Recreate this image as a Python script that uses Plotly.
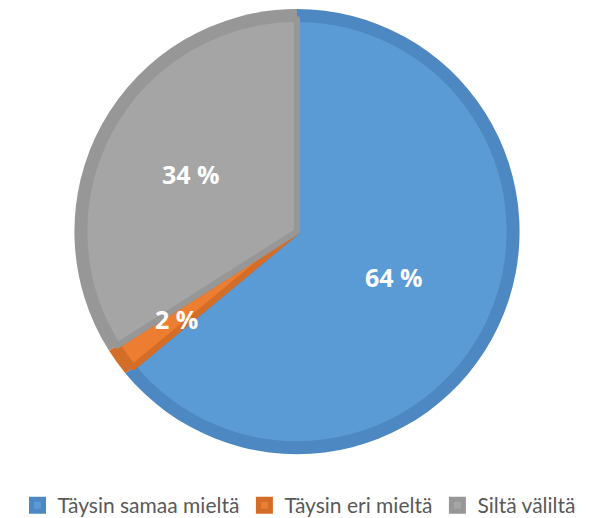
import numpy as np
import plotly.graph_objects as go

# data
labels = ["Täysin samaa mieltä", "Täysin eri mieltä", "Siltä väliltä"]
values = [64, 2, 34]
label_text = ["64 %", "2 %", "34 %"]

FILL   = ["#5B9BD5", "#ED7D31", "#A5A5A5"]
EDGE   = ["#4E88C2", "#D46D27", "#979797"]
W, H = 590, 518
OFF = 8  # browser body margin shifts the figure by 8px

# pie geometry in page pixels (center, outer radius, border width)
CX, CY, R, B = 297 - OFF, 232 - OFF, 223, 10
label_r = [0.48, 0.67, 0.54]


def dom(r):
    return dict(x=[(CX - r) / W, (CX + r) / W],
                y=[1 - (CY + r) / H, 1 - (CY - r) / H])


fig = go.Figure()
# darker outer disc = the slice borders
fig.add_trace(go.Pie(labels=labels, values=values, sort=False, direction="clockwise",
                     rotation=0, marker=dict(colors=EDGE), textinfo="none",
                     hoverinfo="skip", domain=dom(R), showlegend=False))
# lighter inner disc
fig.add_trace(go.Pie(labels=labels, values=values, sort=False, direction="clockwise",
                     rotation=0, marker=dict(colors=FILL, line=dict(color=EDGE, width=6)),
                     textinfo="none", domain=dom(R - B), showlegend=True))

# percentage labels placed along each slice's mid angle
cum = np.cumsum([0] + values)
tot = sum(values)
for i, txt in enumerate(label_text):
    a = np.deg2rad((cum[i] + cum[i + 1]) / 2 / tot * 360)
    px_ = CX + np.sin(a) * R * label_r[i]
    py_ = CY - np.cos(a) * R * label_r[i]
    fig.add_annotation(x=px_ / W, y=1 - py_ / H, xref="paper", yref="paper",
                       xanchor="center", yanchor="middle",
                       text=txt, showarrow=False,
                       font=dict(family="Open Sans", size=25, color="white", weight="bold"))

fig.update_layout(
    width=W, height=H,
    margin=dict(l=0, r=0, t=0, b=0),
    paper_bgcolor="white", plot_bgcolor="white",
    font=dict(family="Lato", size=21, color="#595959"),
    legend=dict(orientation="h", x=(299 - OFF) / W, xanchor="center",
                y=1 - (506 - OFF) / H, yanchor="middle",
                traceorder="normal", itemclick=False),
)

fig.write_html("out.html")
